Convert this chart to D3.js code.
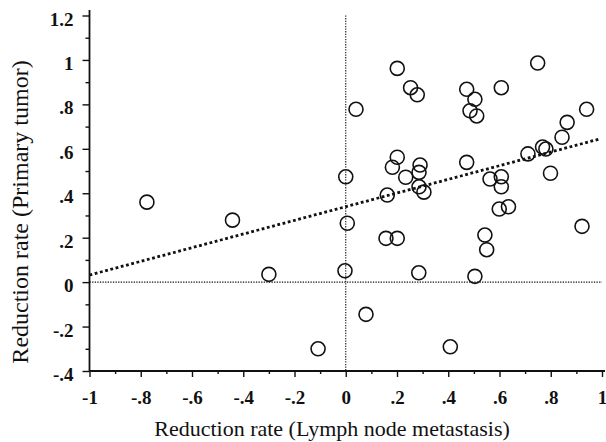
<!DOCTYPE html>
<html><head><meta charset="utf-8">
<script src="https://cdn.jsdelivr.net/npm/d3@7"></script>
<style>body{margin:0;background:#fff}svg{display:block}</style>
</head><body>
<script>
// Data
const lymphRate = [0.201,0.253,0.279,0.040,0.472,0.504,0.485,0.511,0.607,0.749,0.940,0.864,0.844,0.768,0.781,0.711,0.799,0.472,0.201,0.182,0.290,0.286,0.234,0.000,0.563,0.607,0.607,0.286,0.305,0.162,0.599,0.635,0.006,0.157,0.201,0.543,0.550,0.922,-0.003,0.285,0.504,0.079,0.408,-0.776,-0.442,-0.300,-0.108];
const tumorRate = [0.962,0.875,0.843,0.778,0.868,0.823,0.771,0.748,0.875,0.986,0.778,0.719,0.652,0.608,0.599,0.577,0.490,0.539,0.562,0.517,0.527,0.494,0.472,0.474,0.464,0.474,0.429,0.429,0.405,0.392,0.329,0.339,0.265,0.197,0.197,0.212,0.146,0.251,0.051,0.042,0.026,-0.145,-0.291,0.360,0.279,0.035,-0.300];
const fitX = [-1, 0.99];
const fitY = [0.032, 0.644];
const xTicks = [-1,-0.8,-0.6,-0.4,-0.2,0,0.2,0.4,0.6,0.8,1];
const xTickLabels = ["-1","-.8","-.6","-.4","-.2","0",".2",".4",".6",".8","1"];
const yTicks = [-0.4,-0.2,0,0.2,0.4,0.6,0.8,1,1.2];
const yTickLabels = ["-.4","-.2","0",".2",".4",".6",".8","1","1.2"];
const xMinor = [-0.9,-0.7,-0.5,-0.3,-0.1,0.1,0.3,0.5,0.7,0.9];
const yMinor = [-0.3,-0.1,0.1,0.3,0.5,0.7,0.9,1.1];

const W = 606, H = 442;
const svg = d3.select("body").append("svg").attr("width", W).attr("height", H);
const x = d3.scaleLinear().domain([-1, 1]).range([89.5, 602]);
const y = d3.scaleLinear().domain([-0.4, 1.2]).range([371, 15.5]);
const ink = "#111";

// zero reference lines
svg.append("line").attr("x1", x(-1)).attr("x2", x(1)).attr("y1", y(0)).attr("y2", y(0))
  .attr("stroke", ink).attr("stroke-width", 1.1).attr("stroke-dasharray", "1.3,1.3");
svg.append("line").attr("x1", x(0)).attr("x2", x(0)).attr("y1", y(1.2)).attr("y2", y(-0.4))
  .attr("stroke", ink).attr("stroke-width", 1.1).attr("stroke-dasharray", "1.3,1.3");

// regression line
svg.append("line").attr("x1", x(fitX[0])).attr("x2", x(fitX[1])).attr("y1", y(fitY[0])).attr("y2", y(fitY[1]))
  .attr("stroke", ink).attr("stroke-width", 2.8).attr("stroke-dasharray", "2.8,2.6");

// points
svg.append("g").selectAll("circle").data(lymphRate.map((v, i) => [v, tumorRate[i]])).join("circle")
  .attr("cx", d => x(d[0])).attr("cy", d => y(d[1])).attr("r", 7)
  .attr("fill", "none").attr("stroke", ink).attr("stroke-width", 1.6);

// axes
const fontTick = "'Liberation Serif', 'Times New Roman', serif";
const xAxis = svg.append("g").attr("transform", `translate(0,${y(-0.4)})`)
  .call(d3.axisBottom(x).tickValues(xTicks).tickFormat((d, i) => xTickLabels[i]).tickSize(6).tickPadding(14));
const xMinorG = svg.append("g").attr("transform", `translate(0,${y(-0.4)})`)
  .call(d3.axisBottom(x).tickValues(xMinor).tickFormat("").tickSize(3));
const yAxis = svg.append("g").attr("transform", `translate(${x(-1)},0)`)
  .call(d3.axisLeft(y).tickValues(yTicks).tickFormat((d, i) => yTickLabels[i]).tickSize(7).tickPadding(9));
const yMinorG = svg.append("g").attr("transform", `translate(${x(-1)},0)`)
  .call(d3.axisLeft(y).tickValues(yMinor).tickFormat("").tickSize(4));
[xAxis, xMinorG, yAxis, yMinorG].forEach(g => {
  g.select(".domain").remove();
  g.selectAll(".tick line").attr("stroke", ink).attr("stroke-width", 1.4);
  g.selectAll("text").attr("font-family", fontTick).attr("font-weight", "bold")
    .attr("font-size", 19).attr("fill", ink);
});
yAxis.selectAll("text").attr("dy", "0.5em");
// axis lines
svg.append("line").attr("x1", x(-1)).attr("x2", 605).attr("y1", y(-0.4)).attr("y2", y(-0.4))
  .attr("stroke", ink).attr("stroke-width", 1.8);
svg.append("line").attr("x1", x(-1)).attr("x2", x(-1)).attr("y1", 10).attr("y2", y(-0.4))
  .attr("stroke", ink).attr("stroke-width", 1.8);

// titles
svg.append("text").attr("x", 332).attr("y", 436).attr("text-anchor", "middle")
  .attr("font-family", fontTick).attr("font-size", 22).attr("fill", ink)
  .text("Reduction rate (Lymph node metastasis)");
svg.append("text").attr("transform", "translate(28,212) rotate(-90)").attr("text-anchor", "middle")
  .attr("font-family", fontTick).attr("font-size", 24).attr("fill", ink)
  .text("Reduction rate (Primary tumor)");
</script>
</body></html>
